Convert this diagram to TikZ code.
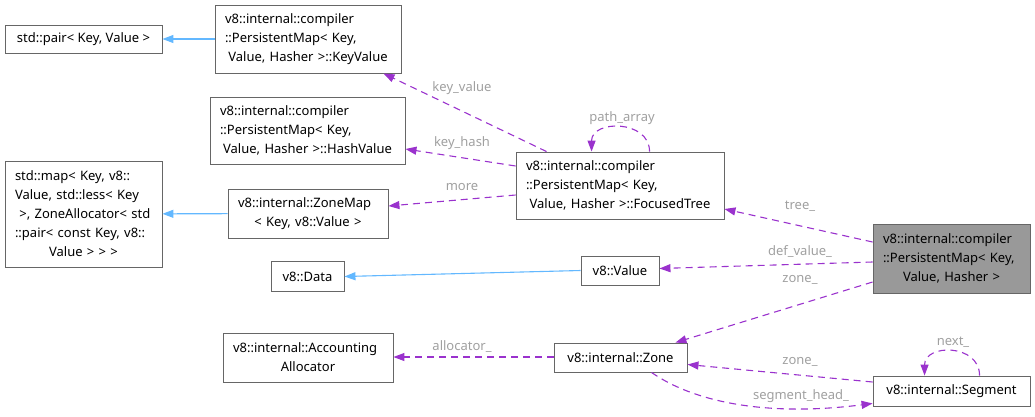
\documentclass[tikz,border=0pt]{standalone}
\usepackage{fontspec}
\setmainfont{Noto Sans}
\usetikzlibrary{arrows.meta}
\definecolor{edgep}{HTML}{9A32CD}
\definecolor{edgeb}{HTML}{63B8FF}
\definecolor{lblc}{HTML}{A0A0A0}
\definecolor{boxc}{HTML}{666666}
\definecolor{mainf}{HTML}{999999}
\newcommand\lft[1]{\makebox[\linewidth][l]{#1}}
\begin{document}
\begin{tikzpicture}[x=1pt,y=-1pt,
  every node/.style={font=\fontsize{13}{19}\selectfont},
  cls/.style={draw=boxc, line width=0.9pt, fill=white, inner xsep=10pt, inner ysep=0pt, align=center},
  lbl/.style={text=lblc, inner sep=0pt},
  inh/.style={draw=edgeb, line width=1.1pt, -{Triangle[length=11pt,width=8pt]}},
  useedge/.style={draw=edgep, line width=1.1pt, dash pattern=on 7pt off 5pt, -{Triangle[length=11pt,width=8pt]}}
]
\useasboundingbox (0,0) rectangle (1035,416);

% classes
\node[cls, minimum width=157pt, minimum height=28pt] (pair) at (83.5,39) {std::pair< Key, Value >};
\node[cls, text width=166pt, minimum height=68pt] (kv) at (308,39)
  {\lft{v8::internal::compiler}\\\lft{::PersistentMap< Key,}\\ Value, Hasher >::KeyValue};
\node[cls, text width=175pt, minimum height=67pt] (hv) at (307.5,130.5)
  {\lft{v8::internal::compiler}\\\lft{::PersistentMap< Key,}\\ Value, Hasher >::HashValue};
\node[cls, text width=137pt, minimum height=106pt] (map) at (83.5,214)
  {\lft{std::map< Key, v8::}\\\lft{Value, std::less< Key}\\\lft{ >, ZoneAllocator< std}\\\lft{::pair< const Key, v8::}\\Value > > >};
\node[cls, text width=140pt, minimum height=49pt] (zmap) at (308,213.5)
  {\lft{v8::internal::ZoneMap}\\< Key, v8::Value >};
\node[cls, minimum width=73pt, minimum height=30pt] (data) at (307.5,276.5) {v8::Data};
\node[cls, text width=188pt, minimum height=67pt] (ft) at (620,185.5)
  {\lft{v8::internal::compiler}\\\lft{::PersistentMap< Key,}\\ Value, Hasher >::FocusedTree};
\node[cls, minimum width=78pt, minimum height=29pt] (value) at (620,270.5) {v8::Value};
\node[cls, fill=mainf, text width=137pt, minimum height=69pt] (main) at (951.5,258.5)
  {\lft{v8::internal::compiler}\\\lft{::PersistentMap< Key,}\\Value, Hasher >};
\node[cls, text width=150pt, minimum height=49pt] (acc) at (308,357.5)
  {\lft{v8::internal::Accounting}\\Allocator};
\node[cls, minimum width=133pt, minimum height=29pt] (zone) at (620.5,357.5) {v8::internal::Zone};
\node[cls, minimum width=157pt, minimum height=30pt] (seg) at (951.5,391) {v8::internal::Segment};

% inheritance
\draw[inh] (kv) -- (pair);
\draw[inh] (zmap) -- (map);
\draw[inh] (value.west) -- (data.east);

% usage
\draw[useedge] ([xshift=31pt]ft.north west) -- ([xshift=-18pt]kv.south east);
\draw[useedge] ([yshift=19.5pt]ft.west) -- ([yshift=-18.5pt]hv.east);
\draw[useedge] ([yshift=-9.5pt]ft.west) -- ([yshift=7.5pt]zmap.east);
\draw[useedge] ([xshift=134pt]ft.north west) .. controls +(0,-32) and +(0,-32) .. ([xshift=76pt]ft.north west);
\draw[useedge] ([yshift=16.5pt]main.west) -- ([yshift=-23.5pt]ft.east);
\draw[useedge] ([yshift=-3.5pt]main.west) -- ([yshift=2pt]value.east);
\draw[useedge] ([yshift=-23.5pt]main.west) -- ([xshift=-12pt]zone.north east);
\draw[useedge] ([yshift=0.5pt]zone.west) -- ([yshift=0.5pt]acc.east);
\draw[useedge] ([yshift=9pt]seg.west) -- ([yshift=-7pt]zone.east);
\draw[useedge] ([xshift=98pt]zone.south west) .. controls +(40,28) and +(-110,14) .. ([yshift=3pt]seg.south west);
\draw[useedge] ([xshift=107pt]seg.north west) .. controls +(0,-32) and +(0,-32) .. ([xshift=52pt]seg.north west);

% labels
\node[lbl] (l1) at (462,88) {key\_value};
\node[lbl] (l2) at (462,143) {key\_hash};
\node[lbl] (l3) at (462,187) {more};
\node[lbl] (l4) at (622,118) {path\_array};
\node[lbl] (l5) at (800,206) {tree\_};
\node[lbl] (l6) at (800,252) {def\_value\_};
\node[lbl] (l7) at (800,280) {zone\_};
\node[lbl] (l8) at (462,347) {allocator\_};
\node[lbl] (l9) at (800,362) {zone\_};
\node[lbl] (l10) at (801,396) {segment\_head\_};
\node[lbl] (l11) at (953,342) {next\_};
\end{tikzpicture}
\end{document}
